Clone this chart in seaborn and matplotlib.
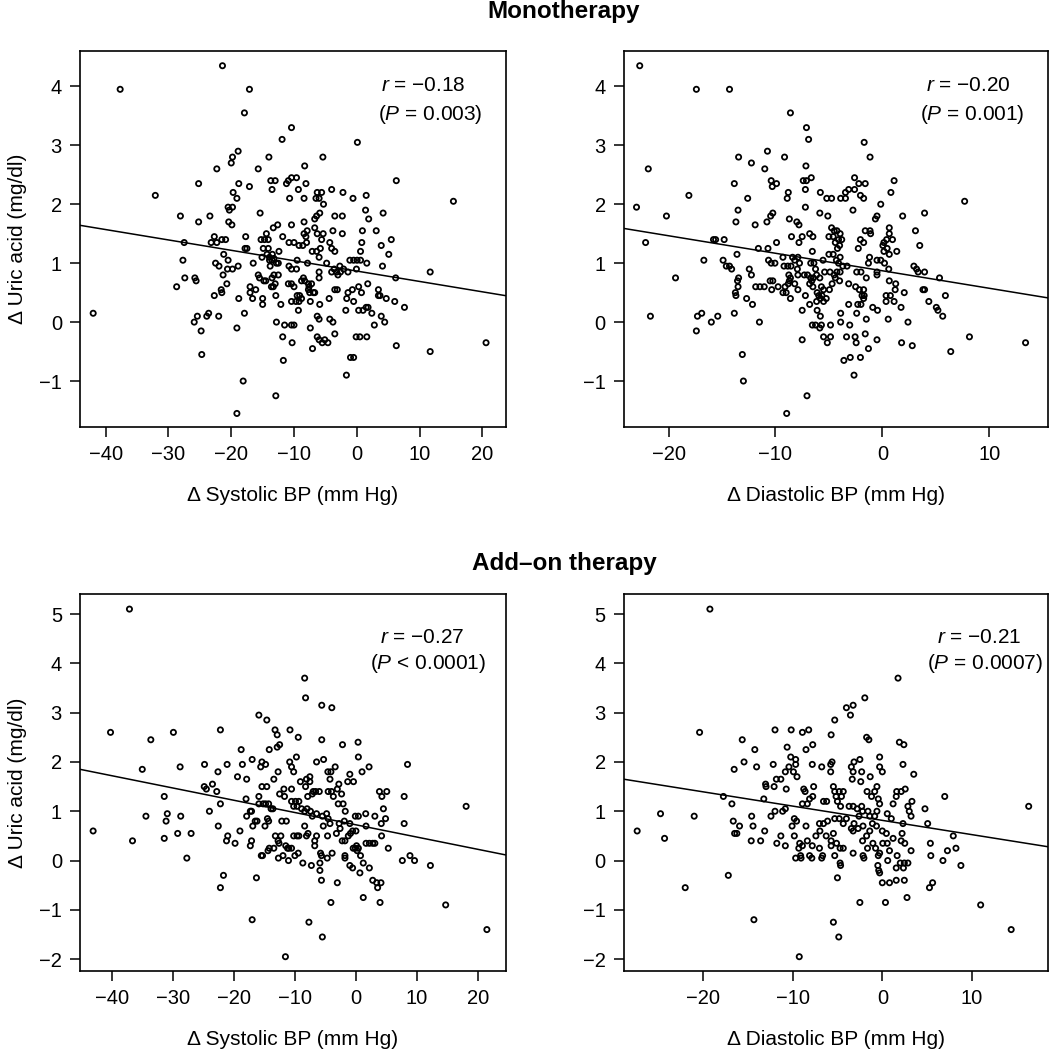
import numpy as np
import pandas as pd
import matplotlib
matplotlib.use("Agg")
import matplotlib.pyplot as plt
import seaborn as sns

# change in uric acid vs change in BP
mono_sbp = [
    (-21.4, 4.35), (-37.7, 3.95), (-17.1, 3.95), (-17.9, 3.55), (-11.9, 3.1), (-18.9, 2.9), (-19.8, 2.8),
    (-20.0, 2.7), (-14.0, 2.8), (-22.3, 2.6), (-15.7, 2.6), (-25.2, 2.35), (-18.8, 2.35), (-17.1, 2.3),
    (-13.7, 2.4), (-13.0, 2.4), (-13.5, 2.25), (-19.7, 2.2), (-19.1, 2.1), (-32.1, 2.15), (-20.5, 1.95),
    (-19.8, 1.95), (-20.3, 1.9), (-15.4, 1.85), (-28.1, 1.8), (-23.4, 1.8), (-25.2, 1.7), (-20.4, 1.7),
    (-19.9, 1.65), (-13.3, 1.6), (-12.6, 1.65), (-14.4, 1.5), (-11.8, 1.45), (-22.7, 1.45), (-21.5, 1.4),
    (-20.9, 1.4), (-22.3, 1.35), (-23.2, 1.35), (-27.5, 1.35), (-17.7, 1.45), (-15.25, 1.4), (-14.7, 1.4),
    (-14.1, 1.4), (-17.8, 1.25), (-17.5, 1.25), (-14.9, 1.25), (-14.1, 1.25), (-12.4, 1.2), (-14.3, 1.15),
    (-13.45, 1.15), (-15.1, 1.1), (-13.9, 1.1), (-13.5, 1.05), (-13.2, 1.08), (-12.8, 1.0), (-12.5, 1.0),
    (-13.9, 1.05), (-13.8, 0.95), (-21.2, 1.15), (-20.5, 1.05), (-22.5, 1.0), (-21.95, 0.95), (-20.6, 0.9),
    (-19.8, 0.9), (-18.9, 0.95), (-16.5, 1.0), (-27.7, 1.05), (-21.3, 0.8), (-27.4, 0.75), (-25.8, 0.75),
    (-25.6, 0.7), (-20.7, 0.65), (-28.7, 0.6), (-21.6, 0.55), (-21.5, 0.5), (-22.7, 0.45), (-15.7, 0.8),
    (-15.5, 0.75), (-14.8, 0.7), (-14.5, 0.7), (-13.2, 0.8), (-12.5, 0.8), (-13.5, 0.75), (-13.0, 0.65),
    (-13.6, 0.6), (-13.3, 0.6), (-17.0, 0.6), (-16.1, 0.55), (-17.0, 0.5), (-16.6, 0.4), (-18.8, 0.4),
    (-15.0, 0.4), (-15.0, 0.3), (-12.9, 0.45), (-12.1, 0.3), (-17.9, 0.15), (-42.0, 0.15), (-25.4, 0.1),
    (-25.9, 0.0), (-23.9, 0.1), (-23.6, 0.15), (-22.0, 0.1), (-24.8, -0.15), (-19.1, -0.1), (-12.8, 0.0),
    (-11.8, -0.25), (-11.7, -0.65), (-24.7, -0.55), (-18.1, -1.0), (-12.9, -1.25), (-19.1, -1.55),
    (-10.4, 3.3), (0.1, 3.05), (-5.4, 2.8), (-8.3, 2.65), (-11.2, 2.35), (-10.9, 2.4), (-10.4, 2.45),
    (-9.6, 2.45), (-8.1, 2.35), (-9.3, 2.25), (6.3, 2.4), (-10.7, 2.1), (-8.4, 2.1), (-6.3, 2.2),
    (-5.6, 2.2), (-6.5, 2.1), (-6.0, 2.1), (-5.3, 2.0), (-4.0, 2.25), (-2.2, 2.2), (-0.6, 2.1), (1.5, 2.15),
    (15.4, 2.05), (1.4, 1.9), (1.9, 1.75), (4.2, 1.85), (-5.9, 1.85), (-6.7, 1.75), (-6.4, 1.8), (-8.4, 1.7),
    (-10.4, 1.65), (-3.5, 1.8), (-2.3, 1.8), (-7.9, 1.55), (-8.4, 1.5), (-8.1, 1.45), (-8.6, 1.3),
    (-8.0, 1.35), (-6.7, 1.6), (-6.3, 1.5), (-5.35, 1.5), (-5.6, 1.4), (-5.8, 1.25), (-4.3, 1.35),
    (-4.0, 1.25), (-3.5, 1.2), (-3.8, 1.55), (-2.3, 1.5), (-10.8, 1.35), (-10.0, 1.35), (-9.2, 1.3),
    (-7.1, 1.2), (-6.4, 1.2), (-6.0, 1.1), (-4.8, 1.0), (-7.85, 1.0), (-9.5, 1.05), (-10.8, 0.95),
    (-10.4, 0.9), (-9.6, 0.9), (-10.9, 0.65), (-10.4, 0.65), (-10.0, 0.6), (-8.8, 0.7), (-8.3, 0.7),
    (-8.5, 0.75), (-7.7, 0.65), (-7.6, 0.6), (-7.2, 0.65), (-7.5, 0.5), (-6.9, 0.5), (-7.7, 0.55),
    (-6.0, 0.75), (-6.0, 0.85), (-6.7, 0.5), (-9.5, 0.45), (-9.1, 0.45), (-8.8, 0.4), (-9.2, 0.35),
    (-9.7, 0.35), (-10.4, 0.35), (-7.4, 0.35), (-9.3, 0.2), (-5.9, 0.3), (-4.4, 0.4), (-4.0, 0.85),
    (-3.6, 0.9), (-3.2, 0.85), (-3.0, 0.8), (-2.6, 0.85), (-2.7, 0.95), (-2.1, 0.9), (-1.4, 0.85),
    (-1.1, 1.05), (-0.5, 1.05), (0.05, 1.05), (0.6, 1.05), (1.6, 1.0), (-0.05, 0.9), (0.8, 1.35),
    (0.9, 1.55), (3.1, 1.55), (0.6, 1.2), (3.9, 1.3), (5.5, 1.4), (5.1, 1.15), (4.1, 0.95), (6.2, 0.75),
    (11.7, 0.85), (-3.5, 0.55), (-3.1, 0.55), (0.3, 0.6), (1.75, 0.65), (0.75, 0.5), (-0.7, 0.55),
    (-1.4, 0.5), (-1.6, 0.4), (-0.5, 0.35), (-1.75, 0.2), (0.3, 0.2), (1.0, 0.2), (1.5, 0.25), (1.8, 0.25),
    (3.45, 0.55), (3.45, 0.45), (3.7, 0.45), (4.7, 0.4), (6.05, 0.35), (7.6, 0.25), (2.4, 0.15), (3.9, 0.1),
    (4.45, 0.0), (2.8, -0.05), (-4.3, 0.05), (-3.8, 0.0), (-3.5, -0.2), (-6.3, 0.1), (-6.0, 0.05),
    (-7.4, -0.1), (-10.4, -0.05), (-10.0, -0.05), (-11.5, -0.05), (-10.3, -0.35), (-6.3, -0.25),
    (-6.0, -0.3), (-5.1, -0.3), (-4.6, -0.35), (-5.5, -0.35), (-7.05, -0.45), (-0.1, -0.25), (0.5, -0.25),
    (1.6, -0.25), (6.3, -0.4), (11.7, -0.5), (20.6, -0.35), (-1.0, -0.6), (-0.5, -0.6), (-1.65, -0.9),
]

mono_dbp = [
    (-22.7, 4.35), (-17.4, 3.95), (-14.3, 3.95), (-8.6, 3.55), (-21.9, 2.6), (-13.45, 2.8), (-10.75, 2.9),
    (-12.25, 2.7), (-11.0, 2.6), (-9.15, 2.8), (-13.85, 2.35), (-10.4, 2.4), (-10.3, 2.3), (-9.9, 2.35),
    (-8.8, 2.2), (-8.9, 2.1), (-12.6, 2.1), (-18.1, 2.15), (-23.0, 1.95), (-20.2, 1.8), (-13.5, 1.9),
    (-13.7, 1.7), (-11.9, 1.65), (-10.8, 1.7), (-10.45, 1.8), (-10.25, 1.85), (-8.7, 1.75), (-8.0, 1.7),
    (-7.8, 1.65), (-8.5, 1.45), (-7.5, 1.45), (-22.15, 1.35), (-15.8, 1.4), (-15.6, 1.4), (-14.8, 1.4),
    (-9.9, 1.35), (-7.8, 1.35), (-11.6, 1.25), (-10.7, 1.25), (-13.6, 1.15), (-16.7, 1.05), (-14.9, 1.05),
    (-14.6, 0.95), (-14.3, 0.95), (-14.1, 0.9), (-10.65, 1.05), (-10.4, 1.0), (-10.05, 1.0), (-9.3, 1.1),
    (-8.4, 1.1), (-8.2, 1.05), (-7.9, 1.1), (-7.75, 1.0), (-9.2, 0.95), (-8.85, 0.95), (-8.55, 0.95),
    (-7.95, 0.9), (-19.35, 0.75), (-12.45, 0.9), (-12.25, 0.8), (-13.45, 0.75), (-13.55, 0.7),
    (-13.5, 0.6), (-13.75, 0.5), (-13.7, 0.45), (-11.85, 0.6), (-11.45, 0.6), (-11.05, 0.6), (-10.5, 0.7),
    (-10.25, 0.7), (-10.35, 0.55), (-9.75, 0.6), (-9.1, 0.6), (-8.8, 0.65), (-8.7, 0.7), (-8.6, 0.75),
    (-8.75, 0.8), (-9.3, 0.5), (-9.0, 0.5), (-8.6, 0.4), (-7.9, 0.55), (-7.9, 0.8), (-8.2, 0.65),
    (-12.7, 0.4), (-12.15, 0.3), (-11.5, 0.0), (-13.85, 0.15), (-17.3, 0.1), (-16.9, 0.15), (-16.0, 0.0),
    (-15.4, 0.1), (-17.4, -0.15), (-21.7, 0.1), (-7.5, 0.2), (-7.5, -0.3), (-13.1, -0.55), (-13.0, -1.0),
    (-8.95, -1.55),
    (-7.1, 3.3), (-6.9, 3.1), (-1.7, 3.05), (-1.15, 2.8), (-7.15, 2.65), (-7.4, 2.4), (-7.1, 2.4),
    (-6.65, 2.45), (-7.2, 2.25), (-7.2, 1.95), (-5.8, 2.2), (-5.85, 1.85), (-5.2, 2.1), (-4.75, 2.1),
    (-3.9, 2.1), (-3.45, 2.1), (-3.45, 2.2), (-3.15, 2.25), (-2.6, 2.45), (-2.6, 2.25), (-2.2, 2.35),
    (-1.6, 2.35), (-2.05, 2.15), (-1.75, 2.1), (-2.75, 1.9), (-5.1, 1.8), (-0.15, 2.0), (0.8, 2.2),
    (1.1, 2.4), (1.9, 1.8), (3.95, 1.85), (7.7, 2.05), (-0.5, 1.8), (-0.65, 1.75), (-4.75, 1.6),
    (-4.5, 1.55), (-4.25, 1.55), (-3.95, 1.5), (-4.6, 1.45), (-5.0, 1.45), (-4.1, 1.4), (-4.4, 1.35),
    (-3.8, 1.4), (-4.0, 1.3), (-4.2, 1.25), (-5.0, 1.15), (-4.6, 1.15), (-6.8, 1.5), (-6.5, 1.45),
    (-6.55, 1.2), (-6.7, 1.0), (-6.4, 1.0), (-6.25, 0.9), (-7.0, 0.8), (-7.3, 0.8), (-6.7, 0.75),
    (-6.45, 0.75), (-6.8, 0.65), (-6.5, 0.6), (-6.6, 0.7), (-6.1, 0.5), (-5.95, 0.45), (-5.8, 0.4),
    (-6.15, 0.35), (-5.5, 0.35), (-5.25, 0.4), (-5.65, 0.45), (-7.2, 0.45), (-6.8, 0.3), (-6.1, 0.2),
    (-5.8, 0.1), (-6.55, -0.05), (-6.25, -0.05), (-5.85, -0.1), (-5.7, -0.05), (-5.5, -0.25),
    (-5.15, -0.35), (-4.85, -0.25), (-4.85, -0.05), (-3.9, 0.15), (-3.9, 0.0), (-3.15, 0.3),
    (-3.05, -0.05), (-3.35, -0.25), (-2.55, -0.25), (-2.45, -0.35), (-3.6, -0.65), (-3.0, -0.6),
    (-2.05, -0.6), (-2.65, -0.9), (-1.6, -0.2), (-1.3, -0.45), (-0.5, -0.3), (-7.05, -1.25), (-2.4, 0.15),
    (-2.3, 0.3), (-2.0, 0.3), (-1.75, 0.4), (-1.5, 0.05), (-0.9, 0.25), (-0.45, 0.2), (-2.5, 0.6),
    (-2.15, 0.55), (-1.75, 0.55), (-1.9, 0.45), (-1.7, 0.45), (-3.15, 0.65), (-4.0, 0.7), (-4.4, 0.75),
    (-4.7, 0.65), (-4.95, 0.55), (-4.5, 0.8), (-4.25, 0.85), (-3.95, 0.85), (-3.7, 0.95), (-3.3, 0.95),
    (-4.1, 1.0), (-4.3, 1.05), (-3.95, 1.1), (-4.9, 0.85), (-5.4, 0.85), (-5.55, 1.05), (-5.85, 0.75),
    (-5.7, 0.6), (-5.5, 0.55), (-6.15, 0.8), (-2.4, 0.85), (-2.0, 0.85), (-1.5, 0.75), (-1.3, 1.0),
    (-1.2, 1.1), (-0.5, 1.05), (-0.15, 1.05), (0.2, 1.0), (-0.5, 0.85), (-0.5, 0.8), (0.6, 0.9),
    (0.65, 0.7), (-2.25, 1.25), (-2.05, 1.4), (-1.75, 1.35), (-1.6, 1.55), (-1.15, 1.55), (-1.1, 1.5),
    (0.05, 1.3), (0.15, 1.35), (0.4, 1.4), (0.65, 1.5), (0.95, 1.4), (0.65, 1.6), (0.15, 1.2),
    (0.45, 1.25), (0.65, 1.15), (1.35, 1.2), (0.35, 0.45), (0.35, 0.35), (0.75, 0.45), (1.1, 0.35),
    (1.2, 0.55), (1.25, 0.65), (0.55, 0.05), (1.75, 0.25), (2.05, 0.5), (2.4, 0.0), (1.8, -0.35),
    (2.8, -0.4), (3.1, 1.55), (3.5, 1.3), (2.95, 0.95), (3.2, 0.9), (3.35, 0.85), (3.95, 0.85),
    (3.8, 0.55), (3.95, 0.55), (4.35, 0.35), (5.05, 0.25), (5.2, 0.2), (5.65, 0.1), (5.35, 0.75),
    (5.9, 0.45), (8.15, -0.25), (6.4, -0.5), (13.4, -0.35),
]

addon_sbp = [
    (-37.1, 5.1), (-40.2, 2.6), (-33.6, 2.45), (-29.9, 2.6), (-22.2, 2.65), (-15.9, 2.95), (-14.6, 2.85),
    (-13.25, 2.65), (-12.9, 2.55), (-12.5, 2.35), (-12.9, 2.3), (-14.2, 2.25), (-18.8, 2.25), (-17.0, 2.05),
    (-15.4, 2.0), (-14.8, 1.95), (-15.6, 1.9), (-21.1, 1.95), (-18.6, 1.95), (-24.8, 1.95), (-22.6, 1.8),
    (-19.4, 1.7), (-17.9, 1.65), (-12.75, 1.8), (-13.45, 1.65), (-15.4, 1.5), (-14.6, 1.5), (-12.5, 1.35),
    (-11.8, 1.45), (-11.7, 1.3), (-15.9, 1.3), (-15.9, 1.15), (-15.2, 1.15), (-14.8, 1.15), (-14.3, 1.15),
    (-13.9, 1.05), (-13.6, 1.05), (-18.0, 1.25), (-17.3, 1.0), (-17.1, 1.0), (-17.9, 0.9), (-16.5, 0.8),
    (-16.2, 0.8), (-16.9, 0.7), (-14.5, 0.85), (-14.3, 0.8), (-14.9, 0.7), (-12.15, 0.8), (-11.4, 0.8),
    (-24.85, 1.5), (-24.5, 1.45), (-23.5, 1.55), (-22.8, 1.4), (-22.2, 1.15), (-24.0, 1.0), (-35.0, 1.85),
    (-28.8, 1.9), (-31.4, 1.3), (-30.9, 0.95), (-31.1, 0.8), (-28.7, 0.9), (-34.4, 0.9), (-22.55, 0.7),
    (-43.05, 0.6), (-36.6, 0.4), (-31.4, 0.45), (-29.2, 0.55), (-27.0, 0.55), (-27.7, 0.05), (-21.0, 0.5),
    (-21.2, 0.4), (-19.8, 0.35), (-19.0, 0.6), (-17.1, 0.4), (-17.3, 0.3), (-15.5, 0.1), (-15.3, 0.1),
    (-14.4, 0.2), (-14.2, 0.25), (-13.2, 0.5), (-12.3, 0.5), (-12.75, 0.4), (-12.6, 0.35), (-13.45, 0.25),
    (-12.7, 0.05), (-11.95, 0.1), (-11.5, 0.3), (-11.2, 0.25), (-21.7, -0.3), (-22.2, -0.55), (-16.3, -0.35),
    (-17.0, -1.2), (-11.55, -1.95), (-11.05, 0.0),
    (-8.4, 3.7), (-8.25, 3.3), (-5.6, 3.15), (-3.95, 3.1), (-10.8, 2.65), (-9.45, 2.5), (-5.6, 2.45),
    (-2.2, 2.35), (0.35, 2.4), (0.4, 2.1), (-9.75, 2.1), (-10.85, 2.0), (-6.45, 2.0), (-5.3, 2.05),
    (-3.4, 1.9), (-4.6, 1.8), (-4.1, 1.8), (-4.25, 1.65), (-1.0, 1.75), (-0.4, 1.6), (-1.35, 1.6),
    (1.0, 1.8), (2.15, 1.9), (8.45, 1.95), (-10.55, 1.9), (-10.2, 1.8), (-9.1, 1.6), (-8.1, 1.65),
    (-7.55, 1.7), (-7.55, 1.6), (-8.25, 1.5), (-7.0, 1.4), (-7.15, 1.35), (-6.6, 1.4), (-6.0, 1.4),
    (-7.9, 1.3), (-4.55, 1.4), (-4.0, 1.4), (-3.7, 1.3), (-3.05, 1.45), (-2.8, 1.55), (-2.35, 1.35),
    (-2.9, 1.15), (-2.1, 1.15), (-1.75, 1.0), (-10.55, 1.45), (-10.55, 1.2), (-9.9, 1.2), (-9.35, 1.2),
    (-10.2, 1.1), (-9.65, 1.1), (-8.9, 1.05), (-8.4, 1.0), (-8.0, 1.05), (-7.45, 1.0), (-7.15, 0.9),
    (-6.45, 0.95), (-5.5, 0.9), (-4.8, 0.95), (-4.55, 0.85), (-5.35, 0.7), (-10.2, 0.5), (-9.65, 0.5),
    (-9.35, 0.5), (-8.4, 0.7), (-7.85, 0.55), (-8.1, 0.5), (-6.45, 0.5), (-6.75, 0.4), (-6.75, 0.3),
    (-11.0, 0.25), (-10.55, 0.25), (-10.0, 0.1), (-9.45, 0.15), (-8.7, -0.05), (-7.3, -0.1), (-5.9, -0.05),
    (-5.9, -0.2), (-5.65, -0.4), (-5.8, 0.15), (-5.65, 0.1), (-3.9, 0.15), (-4.7, 0.05), (-3.05, -0.45),
    (-4.1, -0.85), (-4.65, 0.5), (-3.2, 0.55), (-2.6, 0.65), (-2.25, 0.4), (-1.8, 0.4), (-1.25, 0.5),
    (-0.9, 0.55), (-0.55, 0.6), (0.0, 0.6), (-4.25, 0.75), (-2.75, 0.75), (-1.9, 0.8), (-1.0, 0.75),
    (-0.1, 0.9), (0.4, 0.9), (1.6, 0.95), (1.65, 0.7), (3.1, 0.9), (4.5, 1.05), (4.15, 0.75), (4.85, 0.85),
    (3.85, 1.4), (4.25, 1.3), (5.05, 1.4), (4.2, 0.5), (5.3, 0.25), (1.65, 0.35), (2.2, 0.35), (3.1, 0.35),
    (2.75, 0.35), (0.1, 0.3), (0.4, 0.25), (-0.1, 0.25), (-0.45, 0.25), (0.2, 0.2), (0.75, 0.1),
    (1.2, -0.05), (2.2, -0.15), (0.65, -0.25), (-1.8, 0.1), (-1.8, 0.05), (-1.0, -0.1), (-0.55, -0.15),
    (2.75, -0.4), (3.4, -0.45), (4.1, -0.45), (3.55, -0.55), (1.2, -0.75), (3.95, -0.85), (7.9, 0.75),
    (7.9, 1.3), (7.6, 0.0), (8.85, 0.1), (9.6, 0.0), (12.2, -0.1), (18.05, 1.1), (14.7, -0.9),
    (21.45, -1.4), (-7.7, -1.25), (-5.5, -1.55),
]

addon_dbp = [
    (-19.2, 5.1), (-20.35, 2.6), (-11.95, 2.65), (-10.15, 2.65), (-8.9, 2.6), (-15.6, 2.45), (-14.2, 2.25),
    (-10.6, 2.3), (-15.4, 2.0), (-16.5, 1.85), (-14.0, 1.9), (-12.15, 1.95), (-10.2, 2.1), (-9.65, 2.05),
    (-9.65, 1.95), (-9.9, 1.8), (-10.4, 1.9), (-10.8, 1.8), (-9.5, 1.7), (-11.8, 1.65), (-11.3, 1.65),
    (-13.0, 1.55), (-12.95, 1.5), (-12.05, 1.5), (-10.7, 1.45), (-8.75, 1.45), (-8.6, 1.4), (-13.2, 1.25),
    (-17.7, 1.3), (-16.75, 1.15), (-8.9, 1.15), (-11.95, 1.0), (-11.1, 1.0), (-10.8, 1.05), (-12.4, 0.9),
    (-14.55, 0.9), (-16.6, 0.8), (-15.9, 0.7), (-16.45, 0.55), (-16.2, 0.55), (-14.4, 0.7), (-13.1, 0.6),
    (-14.6, 0.4), (-13.55, 0.4), (-11.3, 0.5), (-11.75, 0.35), (-10.8, 0.3), (-10.05, 0.7), (-9.8, 0.85),
    (-9.55, 0.8), (-9.8, 0.5), (-8.5, 0.7), (-9.2, 0.35), (-9.3, 0.25), (-8.9, 0.3), (-9.1, 0.1),
    (-9.65, 0.05), (-9.05, 0.05), (-24.7, 0.95), (-20.95, 0.9), (-27.3, 0.6), (-24.25, 0.45),
    (-17.15, -0.3), (-21.95, -0.55), (-14.3, -1.2), (-9.25, -1.95),
    (1.75, 3.7), (-1.95, 3.3), (-4.0, 3.1), (-3.25, 3.15), (-3.55, 2.95), (-5.3, 2.85), (-5.7, 2.55),
    (-1.75, 2.5), (-1.5, 2.45), (-8.2, 2.65), (-8.5, 2.25), (-7.75, 2.35), (1.9, 2.4), (2.4, 2.35),
    (-0.3, 2.1), (-0.3, 1.9), (0.0, 1.8), (2.3, 1.95), (3.5, 1.75), (-7.8, 1.95), (-6.75, 1.9),
    (-5.75, 1.95), (-5.6, 2.0), (-5.75, 1.8), (-3.45, 1.9), (-3.15, 2.0), (-2.5, 2.05), (-3.25, 1.8),
    (-2.3, 1.8), (-2.4, 1.6), (-3.35, 1.65), (-1.35, 1.7), (-0.6, 1.5), (-7.65, 1.5), (-7.75, 1.3),
    (-8.1, 1.25), (-8.35, 1.15), (-6.55, 1.2), (-6.2, 1.2), (-5.45, 1.5), (-5.3, 1.4), (-4.8, 1.4),
    (-4.35, 1.4), (-4.55, 1.3), (-5.15, 1.3), (-5.0, 1.2), (-4.65, 1.1), (-3.7, 1.1), (-3.25, 1.1),
    (-2.8, 1.05), (-2.3, 1.1), (-2.2, 1.0), (-2.6, 0.9), (-1.6, 1.0), (-1.4, 0.9), (-0.85, 0.9),
    (-0.6, 1.0), (-0.3, 1.15), (-0.45, 1.25), (-1.2, 1.3), (-0.85, 1.4), (-1.7, 1.4), (0.55, 0.95),
    (1.0, 0.85), (1.2, 1.15), (1.55, 1.3), (1.6, 1.4), (2.1, 1.4), (2.55, 1.45), (2.85, 1.1), (3.0, 1.0),
    (3.2, 0.9), (3.3, 1.2), (2.3, 0.75), (4.75, 1.05), (5.05, 0.75), (6.95, 1.3), (7.9, 0.5), (8.2, 0.25),
    (7.25, 0.2), (6.75, 0.0), (8.75, -0.1), (5.35, 0.35), (5.4, 0.1), (5.6, -0.45), (5.25, -0.55),
    (16.3, 1.1), (10.95, -0.9), (14.35, -1.4), (-5.45, -1.25), (-4.85, -1.55), (-5.0, -0.35),
    (-2.5, -0.85), (0.35, -0.85), (2.75, -0.75), (0.0, -0.45), (0.8, -0.45), (1.55, -0.4), (2.45, -0.4),
    (-0.3, -0.25), (-0.4, -0.2), (-0.5, -0.1), (0.6, 0.0), (1.65, 0.1), (2.0, -0.05), (2.45, -0.05),
    (2.85, -0.05), (1.55, -0.15), (2.35, -0.15), (-0.3, 0.15), (-0.45, 0.1), (-0.75, 0.25), (-1.05, 0.35),
    (-1.65, 0.25), (-2.15, 0.1), (-2.05, 0.05), (-3.25, 0.15), (-4.7, -0.05), (-4.65, -0.1), (-5.3, 0.1),
    (-5.7, 0.3), (-4.7, 0.25), (-4.35, 0.25), (0.0, 0.6), (0.45, 0.55), (0.05, 0.35), (0.55, 0.35),
    (1.2, 0.45), (2.2, 0.55), (2.1, 0.4), (2.5, 0.35), (3.2, 0.2), (0.8, 0.2), (-3.45, 0.65),
    (-3.15, 0.75), (-2.7, 0.65), (-2.15, 0.7), (-1.75, 0.5), (-1.4, 0.6), (-1.1, 0.75), (-0.65, 0.7),
    (-2.2, 0.4), (-3.25, 0.6), (-4.0, 0.85), (-4.35, 0.75), (-7.0, 0.75), (-6.55, 0.75), (-6.1, 0.8),
    (-6.95, 0.6), (-7.4, 0.5), (-6.25, 0.5), (-5.7, 0.4), (-5.45, 0.55), (-5.3, 0.85), (-4.8, 0.85),
    (-5.1, 0.35), (-8.35, 0.4), (-7.8, 0.3), (-8.1, 0.1), (-7.85, 0.05), (-7.0, 0.25), (-6.75, 0.05),
    (-6.65, 0.1),
]

# regression lines as drawn (slope, intercept) and the printed statistics
fit_slope = [-0.0176, -0.0297, -0.0249, -0.0290]
fit_icpt = [0.866, 0.871, 0.725, 0.815]
r_text = ["\u22120.18", "\u22120.20", "\u22120.27", "\u22120.21"]
p_text = ["= 0.003", "= 0.001", "< 0.0001", "= 0.0007"]

sns.set_style("ticks")
plt.rcParams["font.family"] = ["Liberation Sans", "DejaVu Sans"]
plt.rcParams["mathtext.fontset"] = "custom"
plt.rcParams["mathtext.it"] = "Liberation Sans:italic"
plt.rcParams["mathtext.rm"] = "Liberation Sans"
for k in ["text.color", "axes.labelcolor", "xtick.color", "ytick.color", "axes.edgecolor"]:
    plt.rcParams[k] = "black"

W, H = 1050, 1049
fig = plt.figure(figsize=(W / 100, H / 100), dpi=100)


def box(l, r, t, b):
    return [l / W, 1 - b / H, (r - l) / W, (b - t) / H]


panels = [
    dict(data=mono_sbp, rect=box(80, 505.5, 51, 427), xlim=(-44.1, 23.7), ylim=(-1.78, 4.6),
         xt=range(-40, 30, 10), yt=range(-1, 5), xl="\u0394 Systolic BP (mm Hg)", yl=True,
         tp=[(0.806, 0.907), (0.823, 0.832)]),
    dict(data=mono_dbp, rect=box(623.7, 1048, 51, 427), xlim=(-24.2, 15.5), ylim=(-1.78, 4.6),
         xt=range(-20, 20, 10), yt=range(-1, 5), xl="\u0394 Diastolic BP (mm Hg)", yl=False,
         tp=[(0.813, 0.907), (0.822, 0.832)]),
    dict(data=addon_sbp, rect=box(80, 505.5, 594.3, 971), xlim=(-45.2, 24.5), ylim=(-2.24, 5.4),
         xt=range(-40, 30, 10), yt=range(-2, 6), xl="\u0394 Systolic BP (mm Hg)", yl=True,
         tp=[(0.805, 0.884), (0.817, 0.815)]),
    dict(data=addon_dbp, rect=box(623.7, 1048, 594.3, 971), xlim=(-28.8, 18.45), ylim=(-2.24, 5.4),
         xt=range(-20, 20, 10), yt=range(-2, 6), xl="\u0394 Diastolic BP (mm Hg)", yl=False,
         tp=[(0.839, 0.884), (0.852, 0.815)]),
]

for i, pn in enumerate(panels):
    ax = fig.add_axes(pn["rect"])
    df = pd.DataFrame(pn["data"], columns=["bp", "ua"])
    sns.scatterplot(data=df, x="bp", y="ua", ax=ax, marker="o", s=14,
                    facecolors="none", edgecolors="black", linewidths=1.3)
    xs = np.array(pn["xlim"])
    sns.lineplot(x=xs, y=fit_icpt[i] + fit_slope[i] * xs, ax=ax, color="black", linewidth=1.1)
    ax.set_xlim(pn["xlim"])
    ax.set_ylim(pn["ylim"])
    ax.set_xticks(list(pn["xt"]))
    ax.set_yticks(list(pn["yt"]))
    ax.tick_params(direction="out", length=7, width=1.1, pad=6, labelsize=14.5, color="black")
    for sp in ax.spines.values():
        sp.set_linewidth(1.2)
        sp.set_color("black")
    ax.set_xlabel(pn["xl"], fontsize=15, va="center")
    ax.xaxis.set_label_coords(0.5, -0.182)
    if pn["yl"]:
        ax.set_ylabel("\u0394 Uric acid (mg/dl)", fontsize=15, va="center")
        ax.yaxis.set_label_coords(-0.146, 0.5)
    else:
        ax.set_ylabel("")
    (x1, y1), (x2, y2) = pn["tp"]
    ax.text(x1, y1, "$r$ = " + r_text[i], transform=ax.transAxes, ha="center", va="center", fontsize=15)
    ax.text(x2, y2, "($P$ " + p_text[i] + ")", transform=ax.transAxes, ha="center", va="center", fontsize=15)

cx = (80 + 1048) / 2 / W
fig.text(cx, 1 - 18 / H, "Monotherapy", ha="center", va="baseline", fontsize=17.5, fontweight="bold")
fig.text(cx, 1 - 570 / H, "Add\u2013on therapy", ha="center", va="baseline", fontsize=17.5, fontweight="bold")

fig.savefig("out.png", dpi=100, facecolor="white")
